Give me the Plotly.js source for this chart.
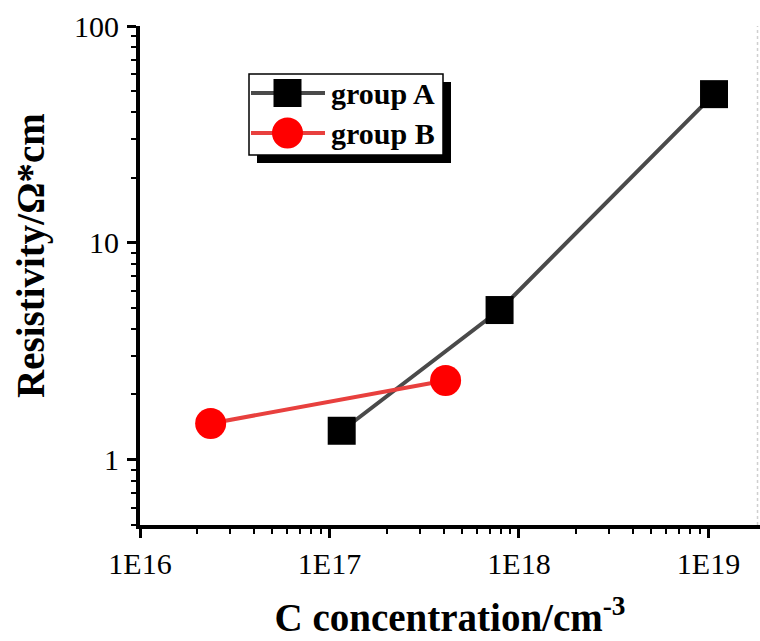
<!DOCTYPE html>
<html>
<head>
<meta charset="utf-8">
<script src="https://cdn.plot.ly/plotly-3.0.1.min.js"></script>
<style>html,body{margin:0;padding:0;background:#fff;}#chart{width:760px;height:641px;}</style>
</head>
<body>
<div id="chart"></div>
<script>
// ---- data ----
const seriesNames = ["group A", "group B"];
const concA = [1.16e17, 7.9e17, 1.07e19];
const resA = [1.36, 4.9, 48.5];
const concB = [2.36e16, 4.1e17];
const resB = [1.47, 2.32];
const xTickVals = [1e16, 1e17, 1e18, 1e19];
const xTickText = ["1E16", "1E17", "1E18", "1E19"];
const yTickVals = [1, 10, 100];
const yTickText = ["1", "10", "100"];
const xTitle = "C concentration/cm<sup>-3</sup>";
const yTitle = "Resistivity/Ω*cm";

// ---- styles ----
const serif = '"Liberation Serif", "DejaVu Serif", serif';
const lineColors = ["#4a4a4a", "#e8403e"];
const markerColors = ["#000000", "#ff0000"];
const markerSymbols = ["square", "circle"];
const markerSizes = [28, 31];
const xRange = [16, 19.272];
const yRange = [Math.log10(0.5), 2];

const M = {l: 140, r: 0, t: 26, b: 116};
const W = 760, H = 641;
const PW = W - M.l - M.r, PH = H - M.t - M.b;
const px = v => (v - M.l) / PW;      // pixel -> paper x
const py = v => (H - M.b - v) / PH;  // pixel -> paper y

const traces = [
  {x: concA, y: resA, name: seriesNames[0]},
  {x: concB, y: resB, name: seriesNames[1]}
].map((t, i) => Object.assign(t, {
  type: "scatter", mode: "lines+markers", showlegend: false,
  line: {color: lineColors[i], width: 4},
  marker: {symbol: markerSymbols[i], size: markerSizes[i], color: markerColors[i]}
}));

// ---- hand-drawn legend box (Origin style with drop shadow) ----
const box = {x0: 249, x1: 443, y0: 74, y1: 155};
const shadowOff = 8;
const rowY = [93, 133];
const shapes = [
  {type: "line", xref: "paper", yref: "paper", x0: 0.996, x1: 0.996, y0: 0, y1: 1,
   line: {color: "#cfcfcf", width: 1.5, dash: "dot"}, layer: "below"},
  {type: "rect", xref: "paper", yref: "paper",
   x0: px(box.x0 + shadowOff), x1: px(box.x1 + shadowOff), y0: py(box.y1 + shadowOff), y1: py(box.y0 + shadowOff),
   fillcolor: "#000", line: {width: 0}, layer: "above"},
  {type: "rect", xref: "paper", yref: "paper",
   x0: px(box.x0), x1: px(box.x1), y0: py(box.y1), y1: py(box.y0),
   fillcolor: "#fff", line: {color: "#000", width: 1.5}, layer: "above"}
];
const annotations = [
  {text: yTitle, xref: "paper", yref: "paper", x: px(31), y: py(256),
   xanchor: "center", yanchor: "middle", textangle: -90, showarrow: false,
   font: {family: serif, size: 39, color: "#000", weight: "bold"}}
];
seriesNames.forEach((name, i) => {
  const cy = rowY[i];
  shapes.push({type: "line", xref: "paper", yref: "paper",
    x0: px(box.x0 + 2), x1: px(325), y0: py(cy), y1: py(cy),
    line: {color: lineColors[i], width: 4}, layer: "above"});
  const h = markerSizes[i] / 2, cx = 287.5;
  shapes.push({type: markerSymbols[i] === "square" ? "rect" : "circle", xref: "paper", yref: "paper",
    x0: px(cx - h), x1: px(cx + h), y0: py(cy + h), y1: py(cy - h),
    fillcolor: markerColors[i], line: {width: 0}, layer: "above"});
  annotations.push({text: name, xref: "paper", yref: "paper", x: px(329), y: py(cy),
    xanchor: "left", yanchor: "middle", showarrow: false,
    font: {family: serif, size: 30, color: "#000", weight: "bold"}});
});

const layout = {
  width: W, height: H, margin: M,
  paper_bgcolor: "#fff", plot_bgcolor: "#fff",
  font: {family: serif},
  showlegend: false,
  xaxis: {type: "log", range: xRange, tickvals: xTickVals, ticktext: xTickText,
    showgrid: false, zeroline: false, showline: true, linecolor: "#000", linewidth: 4,
    ticks: "outside", ticklen: 9, tickwidth: 3, tickcolor: "#000",
    minor: {ticks: "outside", ticklen: 5, tickwidth: 2, tickcolor: "#000", dtick: "D1", showgrid: false},
    tickfont: {family: serif, size: 30, color: "#000"},
    title: {text: xTitle, font: {family: serif, size: 39, color: "#000", weight: "bold"}, standoff: 26}},
  xaxis2: {type: "log", range: xRange, overlaying: "x", side: "top", anchor: "y",
    tickvals: xTickVals, showticklabels: false, showgrid: false, zeroline: false,
    showline: true, linecolor: "#000", linewidth: 4,
    ticks: "inside", ticklen: 8, tickwidth: 3, tickcolor: "#000",
    minor: {ticks: "inside", ticklen: 4, tickwidth: 2, tickcolor: "#666", dtick: "D1", showgrid: false}},
  yaxis: {type: "log", range: yRange, tickvals: yTickVals, ticktext: yTickText,
    showgrid: false, zeroline: false, showline: true, linecolor: "#000", linewidth: 4,
    ticks: "outside", ticklen: 9, tickwidth: 3, tickcolor: "#000",
    minor: {ticks: "outside", ticklen: 5, tickwidth: 2, tickcolor: "#000", dtick: "D1", showgrid: false},
    tickfont: {family: serif, size: 30, color: "#000"},
    ticklabelstandoff: 2},
  yaxis2: {type: "log", range: yRange, overlaying: "y", side: "right", anchor: "x",
    tickvals: yTickVals, showticklabels: false, showgrid: false, zeroline: false, showline: false,
    ticks: "inside", ticklen: 6, tickwidth: 3, tickcolor: "#000"},
  shapes: shapes,
  annotations: annotations
};

Plotly.newPlot("chart", traces, layout, {displayModeBar: false, staticPlot: true});
</script>
</body>
</html>
